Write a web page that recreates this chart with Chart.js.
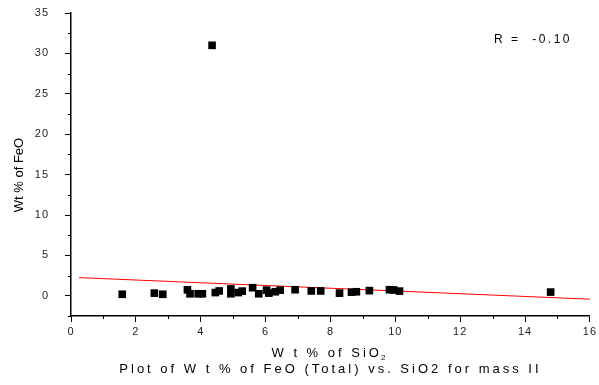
<!DOCTYPE html>
<html>
<head>
<meta charset="utf-8">
<script src="https://cdn.jsdelivr.net/npm/chart.js@4/dist/chart.umd.min.js"></script>
<style>
  html, body { margin: 0; padding: 0; background: #fff; }
  #wrap { width: 599px; height: 385px; position: relative; }
</style>
</head>
<body>
<div id="wrap"><canvas id="feoChart"></canvas></div>
<script>
// measured points: Wt % SiO2 vs Wt % FeO
var sio2 = [1.58, 2.57, 2.83, 3.59, 3.67, 3.92, 4.05, 4.35, 4.45, 4.57, 4.93, 4.93, 5.16, 5.28, 5.6, 5.79,
            6.03, 6.1, 6.3, 6.45, 6.91, 7.41, 7.7, 8.28, 8.65, 8.8, 9.2, 9.82, 9.95, 10.13, 14.79];
var feo = [0.19, 0.33, 0.19, 0.74, 0.25, 0.25, 0.25, 31.0, 0.4, 0.6, 0.85, 0.25, 0.4, 0.58, 1.0, 0.25,
           0.7, 0.33, 0.5, 0.7, 0.75, 0.6, 0.6, 0.33, 0.45, 0.5, 0.64, 0.75, 0.72, 0.58, 0.46];

// linear fit line ends
var fitX = [0.25, 16];
var fitY = [2.25, -0.42];

var xTicks = [0, 2, 4, 6, 8, 10, 12, 14, 16];
var yTicks = [0, 5, 10, 15, 20, 25, 30, 35];

var fontFam = "'Liberation Sans', Arial, sans-serif";

var points = [];
for (var i = 0; i < sio2.length; i++) {
    points.push({x: sio2[i], y: feo[i]});
}
var fitLine = [];
for (var j = 0; j < fitX.length; j++) {
    fitLine.push({x: fitX[j], y: fitY[j]});
}

function drawText(ctx, text, x, y, spacing, size) {
    ctx.save();
    ctx.letterSpacing = spacing + 'px';
    ctx.font = size + 'px ' + fontFam;
    ctx.fillStyle = '#000';
    ctx.textAlign = 'center';
    ctx.textBaseline = 'middle';
    ctx.fillText(text, x, y);
    ctx.restore();
}

var decor = {
    id: 'decor',
    beforeDraw: function (chart) {
        chart.ctx.letterSpacing = '1px';
    },
    afterDraw: function (chart) {
        var ctx = chart.ctx;
        var xs = chart.scales.x, ys = chart.scales.y;
        var area = chart.chartArea;

        // minor ticks
        ctx.save();
        ctx.strokeStyle = '#000';
        ctx.lineWidth = 1;
        ctx.beginPath();
        for (var v = 1; v < 16; v += 2) {
            var px = Math.round(xs.getPixelForValue(v)) + 0.5;
            ctx.moveTo(px, area.bottom);
            ctx.lineTo(px, area.bottom + 3);
        }
        for (var w = -2.5; w < 35; w += 5) {
            var py = Math.round(ys.getPixelForValue(w)) + 0.5;
            ctx.moveTo(area.left, py);
            ctx.lineTo(area.left - 3, py);
        }
        ctx.stroke();
        ctx.restore();

        // axis titles
        var cx = (area.left + area.right) / 2;
        ctx.save();
        ctx.letterSpacing = '3px';
        ctx.font = '13px ' + fontFam;
        ctx.fillStyle = '#000';
        ctx.textBaseline = 'middle';
        var main = 'W t % of SiO';
        var wMain = ctx.measureText(main).width;
        ctx.font = '8px ' + fontFam;
        var wSub = ctx.measureText('2').width;
        var start = cx - (wMain + wSub) / 2;
        ctx.font = '13px ' + fontFam;
        ctx.textAlign = 'left';
        ctx.fillText(main, start, 353);
        ctx.font = '8px ' + fontFam;
        ctx.fillText('2', start + wMain - 1, 358);
        ctx.restore();

        drawText(ctx, 'Plot of W t % of FeO (Total) vs. SiO2 for mass II', cx, 369, 3, 13);

        ctx.save();
        ctx.translate(19, 175);
        ctx.rotate(-Math.PI / 2);
        drawText(ctx, 'Wt % of FeO', 0, 0, 0, 13);
        ctx.restore();

        drawText(ctx, 'R =  -0.10', 533, 40, 2.5, 12);
    }
};

new Chart(document.getElementById('feoChart'), {
    type: 'scatter',
    data: {
        datasets: [{
                label: 'FeO',
                data: points,
                backgroundColor: '#000',
                borderColor: '#000',
                pointStyle: 'rect',
                pointRadius: 5.4,
                pointHoverRadius: 5.4,
                borderWidth: 0
            },
            {
                label: 'fit',
                type: 'line',
                data: fitLine,
                borderColor: 'rgb(255, 0, 0)',
                borderWidth: 1,
                pointRadius: 0,
                fill: false
            }
        ]
    },
    options: {
        responsive: true,
        maintainAspectRatio: false,
        animation: false,
        events: [],
        layout: {
            padding: {left: 0, top: 13, right: 4, bottom: 0}
        },
        plugins: {
            legend: {display: false},
            tooltip: {enabled: false}
        },
        scales: {
            x: {
                type: 'linear',
                min: 0,
                max: 16,
                afterFit: function (scale) { scale.height = 69; },
                afterBuildTicks: function (scale) {
                    scale.ticks = xTicks.map(function (v) { return {value: v}; });
                },
                grid: {drawOnChartArea: false, drawTicks: true, tickLength: 6, color: '#000', tickColor: '#000'},
                border: {display: true, color: '#000', width: 1.5},
                ticks: {
                    color: '#222',
                    padding: 3,
                    maxRotation: 0,
                    font: {family: fontFam, size: 11}
                }
            },
            y: {
                type: 'linear',
                min: -2.5,
                max: 35,
                afterFit: function (scale) {
                    scale.width = 71;
                    scale.paddingTop = 0;
                    scale.paddingBottom = 0;
                },
                afterBuildTicks: function (scale) {
                    scale.ticks = yTicks.map(function (v) { return {value: v}; });
                },
                grid: {drawOnChartArea: false, drawTicks: true, tickLength: 6, color: '#000', tickColor: '#000'},
                border: {display: true, color: '#000', width: 1.5},
                ticks: {
                    color: '#222',
                    padding: 16,
                    font: {family: fontFam, size: 11}
                }
            }
        }
    },
    plugins: [decor]
});
</script>
</body>
</html>
